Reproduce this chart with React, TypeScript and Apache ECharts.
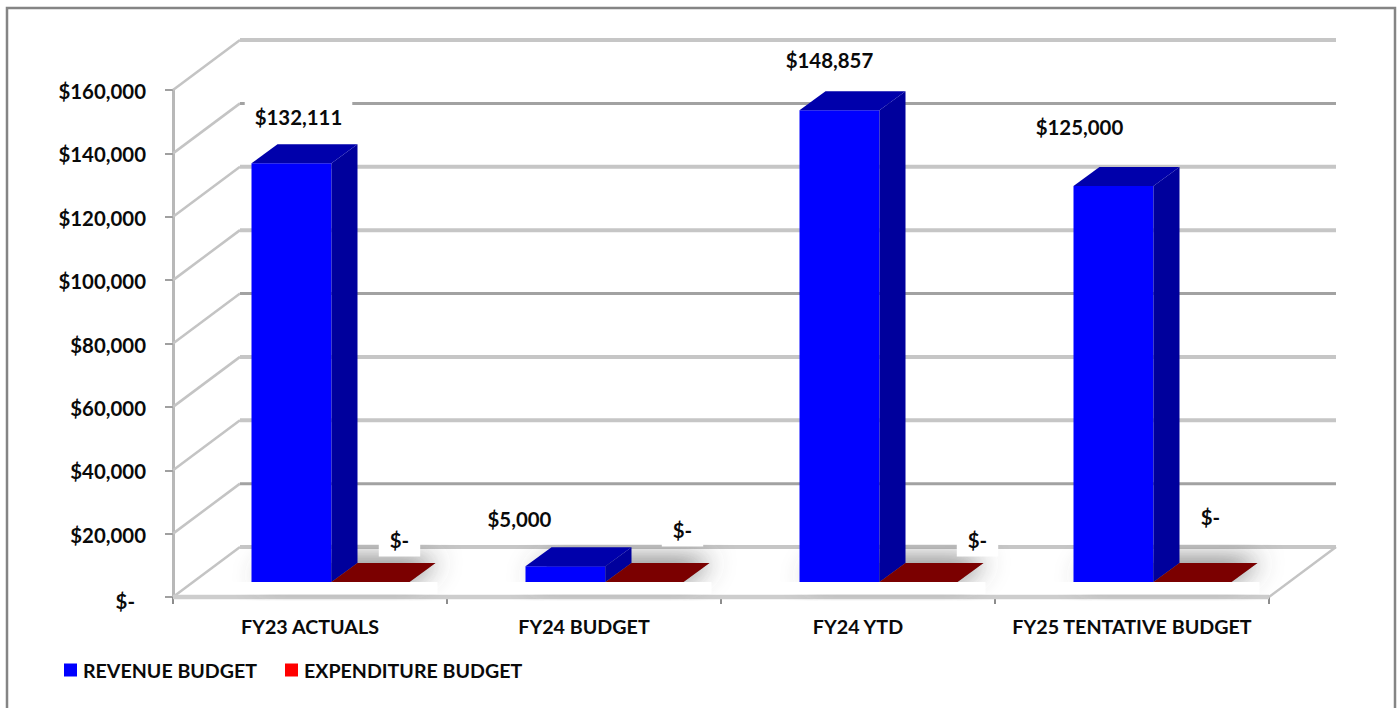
import React, { useEffect, useRef } from "react";
import * as echarts from "echarts";

const categories = ["FY23 ACTUALS", "FY24 BUDGET", "FY24 YTD", "FY25 TENTATIVE BUDGET"];
const revenueBudget = [132111, 5000, 148857, 125000];
const expenditureBudget = [0, 0, 0, 0];
const axisTicks = [0, 20000, 40000, 60000, 80000, 100000, 120000, 140000, 160000];

const FONT = "Lato, Carlito, 'Liberation Sans', sans-serif";
const money = (v: number) => (v === 0 ? "$-" : "$" + v.toLocaleString("en-US"));

// Oblique projection of the chart box: wall depth, bar depth, bar inset from the front plane.
const WALL = { dx: 67, dy: -50 };
const BAR = { dx: 26, dy: -19, width: 80, flatWidth: 78 };
const INSET = { dx: 21.5, dy: -15 };

// Hand-placed value labels, relative to the top-centre of each bar's front face.
const revenueLabelShift = [[7, -46], [-46, -47], [-10, -50], [-34, -59]];
const expenditureLabelShift = [[29, -42], [38, -52], [59, -42], [18, -65]];

const poly = (points: number[][], fill: string, extra: object = {}) => ({
  type: "polygon",
  shape: { points },
  style: { fill, ...extra },
  silent: true,
});

const stroke = (points: number[][], color: string, lineWidth: number) => ({
  type: "polyline",
  shape: { points },
  style: { fill: "none", stroke: color, lineWidth },
  silent: true,
});

function renderWallLine(params: any, api: any) {
  const sys = params.coordSys;
  const value = api.value(1);
  const y = api.coord([0, value])[1];
  const dark = Math.round(value / 20000) % 3 === 1;
  const back = y + WALL.dy;
  const left = sys.x + WALL.dx;
  const right = sys.x + sys.width + WALL.dx;
  const children: any[] = [
    stroke([[sys.x, y], [left, back]], "#c4c4c4", 2.5),
    stroke([[left, back], [right, back]], dark ? "#a2a2a2" : "#c6c6c6", dark ? 3 : 4),
  ];
  if (value === 0) {
    children.push(stroke([[sys.x, y], [sys.x + sys.width, y]], "#cdcdcd", 4.5));
    children.push(stroke([[sys.x + sys.width, y], [right, back]], "#c4c4c4", 2.5));
  }
  return { type: "group", children };
}

function barRenderer(front: string, top: string, side: string, shift: number[][], slot: number) {
  return (_params: any, api: any) => {
    const index = api.value(0);
    const value = api.value(1);
    const center = api.coord([index, 0])[0];
    const baseY = api.coord([index, 0])[1] + INSET.dy;
    const topY = api.coord([index, value])[1] + INSET.dy;
    const x0 = center - BAR.width + INSET.dx + slot * BAR.width;
    const x1 = x0 + (slot === 0 ? BAR.width : BAR.flatWidth);
    const { dx, dy } = BAR;
    const children: any[] = [];
    if (slot === 0) {
      // Soft shadow cast on the floor by the pair of bars, cut off along their front edge.
      const pairEnd = x1 + BAR.flatWidth;
      children.push(
        poly(
          [[x0, baseY], [pairEnd, baseY], [pairEnd + dx, baseY + dy], [x0 + dx, baseY + dy]],
          "#8a8a8a",
          { shadowBlur: 26, shadowColor: "rgba(80,80,80,0.9)", shadowOffsetX: 4, shadowOffsetY: -3 }
        )
      );
      children.push({
        type: "rect",
        silent: true,
        shape: { x: x0 - 40, y: baseY, width: pairEnd - x0 + 68, height: 12 },
        style: { fill: "#ffffff" },
      });
    }
    if (value > 0) {
      children.push(poly([[x0, baseY], [x1, baseY], [x1, topY], [x0, topY]], front));
      children.push(poly([[x1, baseY], [x1 + dx, baseY + dy], [x1 + dx, topY + dy], [x1, topY]], side));
    }
    children.push(poly([[x0, topY], [x1, topY], [x1 + dx, topY + dy], [x0 + dx, topY + dy]], top));
    const [sx, sy] = shift[index];
    const pad = value === 0 ? [6, 11, 7, 11] : [7, 10, 7, 10];
    children.push({
      type: "text",
      z2: 100,
      silent: true,
      x: (x0 + x1) / 2 + sx,
      y: topY + sy,
      style: {
        text: money(value),
        font: `bold 20.4px ${FONT}`,
        fill: "#0a0a0a",
        align: "center",
        verticalAlign: "middle",
        backgroundColor: "#ffffff",
        padding: pad,
      },
    });
    return { type: "group", children };
  };
}

export default function App() {
  const ref = useRef<HTMLDivElement>(null);

  useEffect(() => {
    const chart = echarts.init(ref.current!, undefined, { renderer: "svg" });
    chart.setOption({
      animation: false,
      backgroundColor: "#ffffff",
      textStyle: { fontFamily: FONT },
      grid: { left: 173, right: 131, top: 90, bottom: 111 },
      xAxis: {
        type: "category",
        data: categories,
        axisLine: { show: false },
        axisTick: { show: true, length: 7, lineStyle: { color: "#8c8c8c", width: 2 } },
        axisLabel: { interval: 0, margin: 19, color: "#0a0a0a", fontWeight: "bold", fontSize: 19.7, fontFamily: FONT },
        splitLine: { show: false },
      },
      yAxis: {
        type: "value",
        min: 0,
        max: 160000,
        interval: 20000,
        axisLine: { show: true, lineStyle: { color: "#b8b8b8", width: 3 } },
        axisTick: { show: true, length: 8, lineStyle: { color: "#a0a0a0", width: 2 } },
        splitLine: { show: false },
        axisLabel: {
          margin: 27,
          color: "#0a0a0a",
          fontWeight: "bold",
          fontSize: 20.4,
          fontFamily: FONT,
          padding: [2, 0, 0, 0],
          formatter: (v: number) => (v === 0 ? "{zero|$-}" : money(v)),
          rich: {
            zero: { fontWeight: "bold", fontSize: 20.4, fontFamily: FONT, color: "#0a0a0a", padding: [6, 11, 0, 0] },
          },
        },
      },
      legend: {
        left: 64,
        top: 660,
        padding: 0,
        itemWidth: 13,
        itemHeight: 13,
        itemGap: 28,
        icon: "rect",
        selectedMode: false,
        data: ["REVENUE BUDGET", "EXPENDITURE BUDGET"],
        textStyle: { color: "#0a0a0a", fontWeight: "bold", fontSize: 19.6, fontFamily: FONT, padding: [0, 0, 0, 1] },
      },
      graphic: [
        {
          type: "rect",
          silent: true,
          shape: { x: 7, y: 8, width: 1388, height: 730 },
          style: { fill: "none", stroke: "#858585", lineWidth: 2.5 },
        },
      ],
      series: [
        {
          type: "custom",
          name: "wall",
          coordinateSystem: "cartesian2d",
          z: 1,
          data: axisTicks.map((v) => [0, v]),
          encode: { x: 0, y: 1 },
          renderItem: renderWallLine,
          silent: true,
        },
        {
          type: "custom",
          name: "REVENUE BUDGET",
          coordinateSystem: "cartesian2d",
          z: 3,
          itemStyle: { color: "#0000ff" },
          data: revenueBudget.map((v, i) => [i, v]),
          encode: { x: 0, y: 1 },
          renderItem: barRenderer("#0000ff", "#0000ab", "#00009c", revenueLabelShift, 0),
        },
        {
          type: "custom",
          name: "EXPENDITURE BUDGET",
          coordinateSystem: "cartesian2d",
          z: 4,
          itemStyle: { color: "#ff0000" },
          data: expenditureBudget.map((v, i) => [i, v]),
          encode: { x: 0, y: 1 },
          renderItem: barRenderer("#ff0000", "#7b0000", "#7b0000", expenditureLabelShift, 1),
        },
      ],
    });
    return () => chart.dispose();
  }, []);

  return (
    <div
      ref={ref}
      style={{ position: "fixed", left: 0, top: 0, width: 1400, height: 708, overflow: "hidden" }}
    />
  );
}
